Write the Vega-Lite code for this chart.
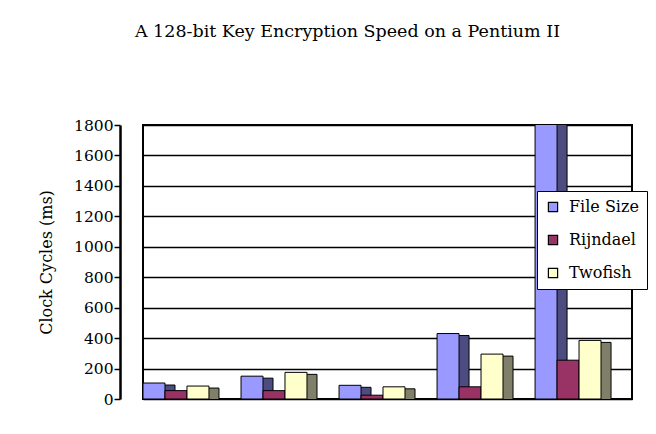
{
  "$schema": "https://vega.github.io/schema/vega-lite/v6.json",
  "autosize": "none",
  "width": 489,
  "height": 274,
  "padding": {"left": 143, "top": 125, "right": 24, "bottom": 35},
  "background": "white",
  "title": {
    "text": "A 128-bit Key Encryption Speed on a Pentium II",
    "font": "DejaVu Serif",
    "fontSize": 17.5,
    "fontWeight": "normal",
    "color": "black",
    "anchor": "middle",
    "frame": "group",
    "dx": -40,
    "offset": 78
  },
  "config": {
    "view": {"stroke": "black", "strokeWidth": 2},
    "font": "DejaVu Serif"
  },
  "data": {
    "values": [
      {"group": 1, "series": "File Size", "value": 105},
      {"group": 1, "series": "Rijndael", "value": 55},
      {"group": 1, "series": "Twofish", "value": 85},
      {"group": 2, "series": "File Size", "value": 150},
      {"group": 2, "series": "Rijndael", "value": 55},
      {"group": 2, "series": "Twofish", "value": 175},
      {"group": 3, "series": "File Size", "value": 90},
      {"group": 3, "series": "Rijndael", "value": 25},
      {"group": 3, "series": "Twofish", "value": 80},
      {"group": 4, "series": "File Size", "value": 430},
      {"group": 4, "series": "Rijndael", "value": 80},
      {"group": 4, "series": "Twofish", "value": 295},
      {"group": 5, "series": "File Size", "value": 2500},
      {"group": 5, "series": "Rijndael", "value": 255},
      {"group": 5, "series": "Twofish", "value": 385}
    ]
  },
  "encoding": {
    "x": {
      "field": "group",
      "type": "nominal",
      "axis": null,
      "scale": {"paddingInner": 0.327, "paddingOuter": 0.158, "align": 0}
    },
    "y": {
      "field": "value",
      "type": "quantitative",
      "scale": {"domain": [0, 1800]},
      "axis": {
        "title": "Clock Cycles (ms)",
        "titleFont": "DejaVu Serif",
        "titleFontSize": 16,
        "titleFontWeight": "normal",
        "titleColor": "black",
        "titlePadding": 19,
        "values": [0, 200, 400, 600, 800, 1000, 1200, 1400, 1600, 1800],
        "format": "d",
        "labelFont": "DejaVu Serif",
        "labelFontSize": 15.5,
        "labelColor": "black",
        "labelPadding": 1,
        "offset": 23,
        "domainColor": "black",
        "domainWidth": 2.5,
        "tickColor": "black",
        "tickWidth": 1.5,
        "tickSize": 6,
        "grid": true,
        "gridColor": "black",
        "gridWidth": 1.5,
        "gridOpacity": 1
      }
    }
  },
  "layer": [
    {
      "mark": {"type": "bar", "clip": true, "yOffset": 2, "stroke": "black", "strokeWidth": 1},
      "encoding": {
        "xOffset": {"field": "series", "type": "nominal", "scale": {"paddingInner": 0, "paddingOuter": 0, "range": [10, 75.97]}},
        "color": {
          "field": "series",
          "type": "nominal",
          "scale": {"domain": ["File Size", "Rijndael", "Twofish"], "range": ["#4C4C80", "#4C1A33", "#80806A"]},
          "legend": null
        }
      }
    },
    {
      "mark": {"type": "bar", "clip": true, "stroke": "black", "strokeWidth": 1},
      "encoding": {
        "xOffset": {"field": "series", "type": "nominal", "scale": {"paddingInner": 0, "paddingOuter": 0}},
        "color": {
          "field": "series",
          "type": "nominal",
          "scale": {"domain": ["File Size", "Rijndael", "Twofish"], "range": ["#9999FF", "#993366", "#FFFFCC"]},
          "legend": {
            "title": null,
            "orient": "none",
            "legendX": 394,
            "legendY": 66,
            "strokeColor": "black",
            "fillColor": "white",
            "padding": 8,
            "symbolType": "square",
            "symbolSize": 85,
            "symbolStrokeColor": "black",
            "symbolStrokeWidth": 1.2,
            "labelFont": "DejaVu Serif",
            "labelFontSize": 16,
            "labelColor": "black",
            "labelOffset": 8,
            "rowPadding": 17
          }
        }
      }
    }
  ],
  "resolve": {"scale": {"color": "independent", "xOffset": "independent"}}
}
